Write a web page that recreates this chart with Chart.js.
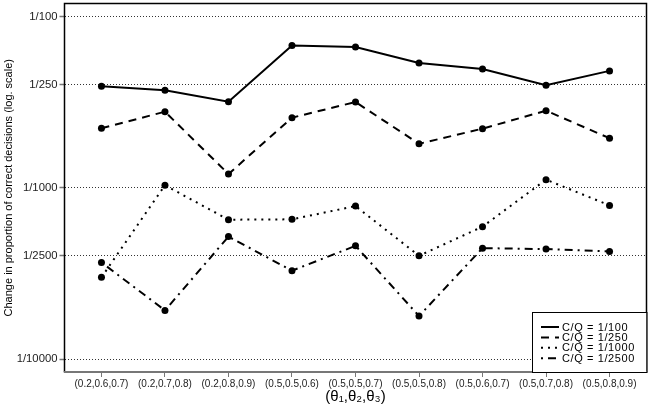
<!DOCTYPE html>
<html>
<head>
<meta charset="utf-8">
<script src="https://cdn.jsdelivr.net/npm/chart.js@4/dist/chart.umd.min.js"></script>
<style>
html,body{margin:0;padding:0;background:#fff;}
canvas{display:block;}
</style>
</head>
<body>
<canvas id="c" width="650" height="408"></canvas>
<script>
const categories = ["(0.2,0.6,0.7)","(0.2,0.7,0.8)","(0.2,0.8,0.9)","(0.5,0.5,0.6)","(0.5,0.5,0.7)","(0.5,0.5,0.8)","(0.5,0.6,0.7)","(0.5,0.7,0.8)","(0.5,0.8,0.9)"];
// denominators D of the plotted value 1/D
const denomCQ100  = [256, 270, 315, 148, 151, 187, 203, 252, 208];
const denomCQ250  = [450, 360, 832, 390, 316, 554, 452, 355, 514];
const denomCQ1000 = [3334, 967, 1537, 1529, 1280, 2495, 1688, 897, 1268];
const denomCQ2500 = [2729, 5200, 1929, 3049, 2184, 5610, 2252, 2282, 2356];
const yTickDenoms = [100, 250, 1000, 2500, 10000];
const seriesLabels = ["C/Q = 1/100", "C/Q = 1/250", "C/Q = 1/1000", "C/Q = 1/2500"];
const yTitle = "Change in proportion of correct decisions (log. scale)";
const xTitle = "(\u03B8\u2081,\u03B8\u2082,\u03B8\u2083)";

const FONT = "'Liberation Sans', Arial, Helvetica, sans-serif";
const toPts = d => d.map((v, i) => ({x: i + 1, y: 1 / v}));
const dashes = [[], [8, 6], [2, 5], [2, 5, 8, 5]];
const allDenoms = [denomCQ100, denomCQ250, denomCQ1000, denomCQ2500];

const datasets = allDenoms.map((d, k) => ({
  label: seriesLabels[k],
  data: toPts(d),
  borderColor: '#000',
  backgroundColor: '#000',
  borderWidth: 2,
  borderDash: dashes[k],
  pointRadius: 3.5,
  pointHoverRadius: 3.5,
  pointBackgroundColor: '#000',
  pointBorderWidth: 0,
  tension: 0,
  fill: false
}));

const framePlugin = {
  id: 'frame',
  afterDraw(chart) {
    const {ctx, chartArea: a} = chart;
    ctx.save();
    ctx.strokeStyle = '#000';
    ctx.lineWidth = 1.5;
    ctx.beginPath();
    ctx.moveTo(a.left, a.bottom);
    ctx.lineTo(a.left, a.top);
    ctx.lineTo(a.right, a.top);
    ctx.lineTo(a.right, a.bottom);
    ctx.stroke();
    ctx.strokeStyle = '#777';
    ctx.lineWidth = 2;
    ctx.beginPath();
    ctx.moveTo(a.left - 0.75, a.bottom);
    ctx.lineTo(a.right + 0.75, a.bottom);
    ctx.stroke();

    // legend box
    const bx = 532, by = 312, bw = a.right - 532, bh = a.bottom - 312;
    ctx.fillStyle = '#fff';
    ctx.fillRect(bx, by, bw, bh);
    ctx.strokeStyle = '#000';
    ctx.lineWidth = 1;
    ctx.strokeRect(bx + 0.5, by + 0.5, bw, bh);
    const rows = [327, 337.5, 347.8, 358.2];
    chart.data.datasets.forEach((ds, i) => {
      ctx.save();
      ctx.strokeStyle = '#000';
      ctx.lineWidth = 2;
      ctx.setLineDash(ds.borderDash);
      ctx.beginPath();
      ctx.moveTo(541, rows[i]);
      ctx.lineTo(559, rows[i]);
      ctx.stroke();
      ctx.restore();
      ctx.save();
      ctx.fillStyle = '#000';
      ctx.font = '11px ' + FONT;
      ctx.letterSpacing = '0.6px';
      ctx.textBaseline = 'middle';
      ctx.textAlign = 'left';
      ctx.fillText(ds.label, 562, rows[i] + 0.5);
      ctx.restore();
    });
    ctx.restore();
  }
};

new Chart(document.getElementById('c'), {
  type: 'line',
  data: {datasets},
  plugins: [framePlugin],
  options: {
    responsive: false,
    animation: false,
    layout: {padding: {top: 0.5, right: 1, left: 0, bottom: 0}},
    plugins: {legend: {display: false}, tooltip: {enabled: false}},
    scales: {
      x: {
        type: 'linear',
        bounds: 'data',
        min: 0.418,
        max: 9.582,
        afterBuildTicks: s => { s.ticks = categories.map((c, i) => ({value: i + 1})); },
        afterFit: s => { s.height = 36; s.paddingLeft = 0; s.paddingRight = 0; },
        ticks: {
          callback: v => categories[v - 1],
          font: {size: 10, family: FONT},
          color: '#222',
          padding: 1,
          maxRotation: 0,
          autoSkip: false
        },
        grid: {drawOnChartArea: false, drawTicks: true, tickLength: 5, tickColor: '#777', tickWidth: 1},
        border: {display: false},
        title: {display: true, text: xTitle, font: {size: 15, family: FONT}, color: '#000', padding: {top: 0, bottom: 2}}
      },
      y: {
        type: 'logarithmic',
        bounds: 'data',
        min: 1 / 11900,
        max: 1 / 84.1,
        afterBuildTicks: s => { s.ticks = yTickDenoms.map(d => ({value: 1 / d})); },
        afterFit: s => { s.width = 64.5; s.paddingTop = 0; s.paddingBottom = 0; },
        ticks: {
          callback: v => '1/' + Math.round(1 / v),
          font: {size: 11.3, family: FONT},
          color: '#222',
          padding: 2
        },
        grid: {drawOnChartArea: true, drawTicks: true, tickLength: 5, tickColor: '#777', tickWidth: 1.5, color: '#333', lineWidth: 1, tickBorderDash: []},
        border: {display: false, dash: [1, 2]},
        title: {display: true, text: yTitle, font: {size: 11, family: FONT}, color: '#000', padding: {top: 2, bottom: 0}}
      }
    }
  }
});
</script>
</body>
</html>
